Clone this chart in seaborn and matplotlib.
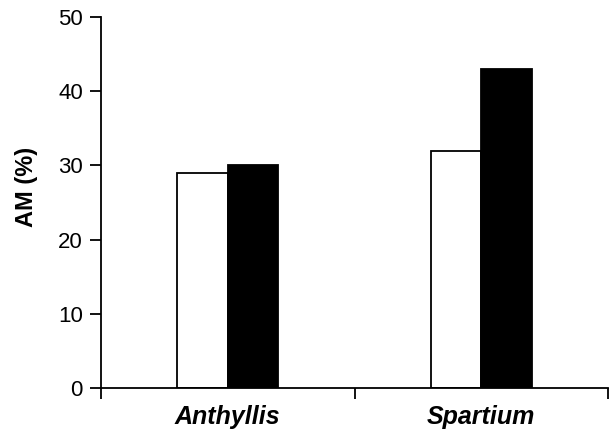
# Gráfico de barras AM (%) por especie
import pandas as pd
import numpy as np
import matplotlib.pyplot as plt
import seaborn as sns

# Datos
especies = ['Anthyllis', 'Spartium']
tratamientos = ['blanco', 'negro']
am_blanco = [29, 32]
am_negro = [30, 43]

df = pd.DataFrame({
    'especie': especies * 2,
    'tratamiento': [tratamientos[0]] * 2 + [tratamientos[1]] * 2,
    'am': am_blanco + am_negro,
})

sns.set_style('white')
plt.rcParams['font.family'] = ['Liberation Sans', 'DejaVu Sans']
plt.rcParams['text.color'] = 'black'
plt.rcParams['axes.labelcolor'] = 'black'
plt.rcParams['xtick.color'] = 'black'
plt.rcParams['ytick.color'] = 'black'

fig = plt.figure(figsize=(6.1, 4.3), dpi=100)
ax = fig.add_axes([0.1656, 0.0977, 0.8311, 0.8628])

sns.barplot(data=df, x='especie', y='am', hue='tratamiento',
            palette=['white', 'black'], edgecolor='black', linewidth=1.3,
            width=0.4, legend=False, ax=ax)

ax.set_xlim(-0.5, 1.5)
ax.set_ylim(0, 50)
ax.set_yticks(np.arange(0, 51, 10))
ax.tick_params(axis='y', direction='out', length=8, width=1.3,
               labelsize=16, pad=5, left=True)
ax.set_xticks([0, 1])
ax.set_xticklabels(especies, fontsize=18, fontweight='bold', fontstyle='italic')
ax.tick_params(axis='x', length=0, pad=12)
ax.set_xticks([-0.5, 0.5, 1.5], minor=True)
ax.tick_params(axis='x', which='minor', direction='out', length=8, width=1.3,
               bottom=True)

for lado in ['top', 'right']:
    ax.spines[lado].set_visible(False)
for lado in ['left', 'bottom']:
    ax.spines[lado].set_linewidth(1.3)
    ax.spines[lado].set_color('black')

ax.set_xlabel('')
ax.set_ylabel('AM (%)', fontsize=17, fontweight='bold')
ax.yaxis.set_label_coords(-0.125, 0.542)

fig.savefig('out.png', dpi=100)
